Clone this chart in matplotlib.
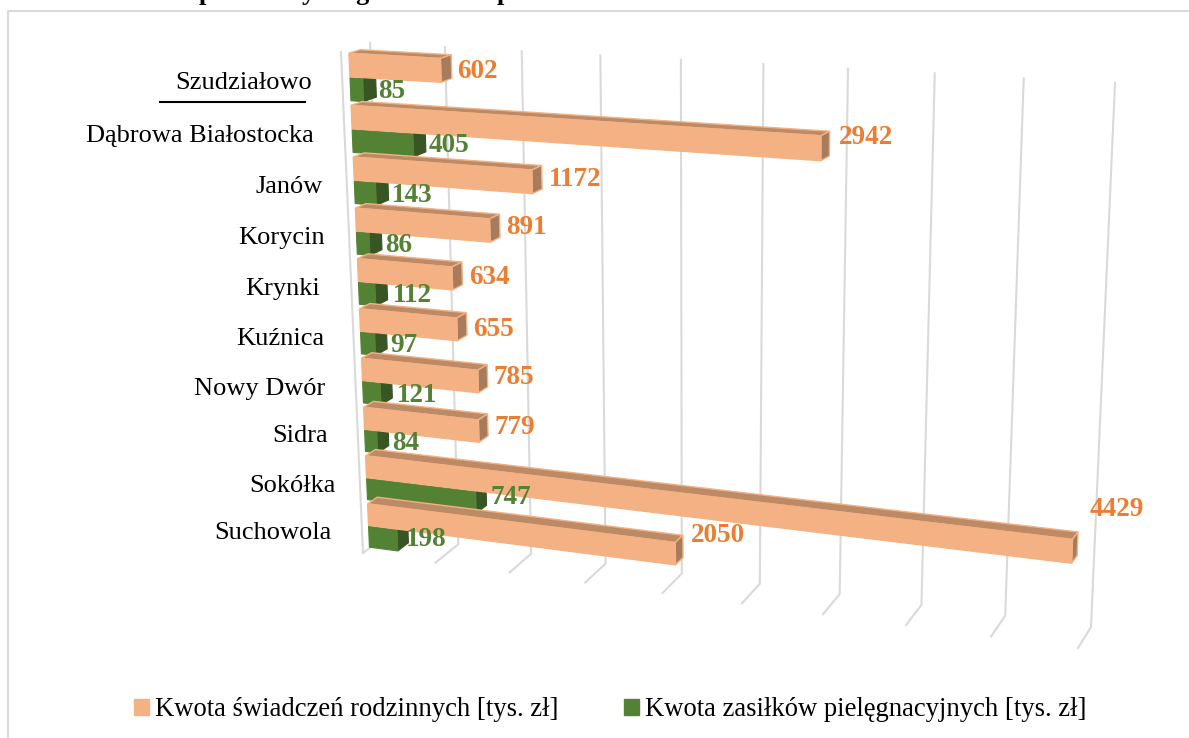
import numpy as np
import matplotlib
matplotlib.use("Agg")
import matplotlib.pyplot as plt
from matplotlib.patches import Polygon, Patch
from matplotlib.lines import Line2D

# ---- data ----
categories = ["Szudziałowo", "Dąbrowa Białostocka", "Janów", "Korycin", "Krynki",
              "Kuźnica", "Nowy Dwór", "Sidra", "Sokółka", "Suchowola"]
swiadczenia = [602, 2942, 1172, 891, 634, 655, 785, 779, 4429, 2050]
zasilki = [85, 405, 143, 86, 112, 97, 121, 84, 747, 198]
grid_values = [0, 500, 1000, 1500, 2000, 2500, 3000, 3500, 4000, 4500]
series_names = ["Kwota świadczeń rodzinnych [tys. zł]", "Kwota zasiłków pielęgnacyjnych [tys. zł]"]

# ---- layout (pixels) ----
W_, H_ = 1189, 738
VMAX, CMAX = 4500.0, 10.0
WALL = [(370, 43), (1115, 83), (1091, 627), (387, 535)]
FRONT = [(341, 52), (1095, 95), (1078, 648), (363, 553)]
T_FRONT, T_BACK_P, T_BACK_G = 0.73, 0.34, 0.28
P_TOP, P_BOT, G_TOP, G_BOT = 0.07, 0.52, 0.54, 0.98

cat_right = [312, 314, 323, 325, 320, 324, 325, 328, 336, 331]
cat_y = [83, 136, 187, 238, 289, 339, 389, 436, 486, 533]
peach_lbl = [(477, 71), (866, 137), (575, 179), (526, 228), (489, 278), (493, 329),
             (514, 378), (515, 427), (1117, 509), (718, 536)]
green_lbl = [(392, 92), (449, 145), (412, 195), (399, 245), (412, 296), (404, 346),
             (417, 395), (406, 444), (511, 497), (426, 539)]

PEACH, PEACH_TOP, PEACH_SIDE = "#F4B183", "#BC8B66", "#A67C5C"
GREEN, GREEN_SIDE = "#548235", "#375623"
TXT_O, TXT_G = "#ED7D31", "#548235"
GRID = "#D9D9D9"

plt.rcParams["font.family"] = ["Liberation Serif", "DejaVu Serif"]


def homography(q):
    src = [(0, 0), (VMAX, 0), (VMAX, CMAX), (0, CMAX)]
    A, b = [], []
    for (x, y), (u, v) in zip(src, q):
        A.append([x, y, 1, 0, 0, 0, -u * x, -u * y]); b.append(u)
        A.append([0, 0, 0, x, y, 1, -v * x, -v * y]); b.append(v)
    h = np.linalg.solve(np.array(A, float), np.array(b, float))
    return np.append(h, 1).reshape(3, 3)


HW, HF = homography(WALL), homography(FRONT)


def proj(H, v, c):
    p = H @ np.array([v, c, 1.0])
    return p[:2] / p[2]


def P(v, c, t):
    return (1 - t) * proj(HW, v, c) + t * proj(HF, v, c)


fig = plt.figure(figsize=(W_ / 100, H_ / 100), dpi=100, facecolor="white")
ax = fig.add_axes([0, 0, 1, 1])
ax.set_xlim(0, W_)
ax.set_ylim(H_, 0)
ax.axis("off")

# chart frame
ax.add_line(Line2D([8, 8, W_], [H_, 11, 11], color=GRID, lw=1.5, zorder=1))

# gridlines
for g in grid_values:
    a, b, c = proj(HW, g, 0), proj(HW, g, CMAX), proj(HF, g, CMAX)
    ax.add_line(Line2D([a[0], b[0], c[0]], [a[1], b[1], c[1]], color=GRID, lw=1.5, zorder=2))
a, b = proj(HF, 0, 0), proj(HF, 0, CMAX)
ax.add_line(Line2D([a[0], b[0]], [a[1], b[1]], color=GRID, lw=1.5, zorder=2))


def poly(pts, fc, ec, z, lw=0.8):
    ax.add_patch(Polygon(np.array(pts), closed=True, facecolor=fc, edgecolor=ec, lw=lw, zorder=z))


z = 5
for i, (pv, gv) in enumerate(zip(swiadczenia, zasilki)):
    # green series (behind)
    c0, c1 = i + G_TOP, i + G_BOT
    poly([P(gv, c0, T_FRONT), P(gv, c1, T_FRONT), P(gv, c1, T_BACK_G), P(gv, c0, T_BACK_G)],
         GREEN_SIDE, GREEN_SIDE, z)
    poly([P(0, c0, T_FRONT), P(gv, c0, T_FRONT), P(gv, c1, T_FRONT), P(0, c1, T_FRONT)],
         GREEN, GREEN, z + 0.1)
    # peach series
    c0, c1 = i + P_TOP, i + P_BOT
    poly([P(0, c0, T_FRONT), P(pv, c0, T_FRONT), P(pv, c0, T_BACK_P), P(0, c0, T_BACK_P)],
         PEACH_TOP, PEACH, z + 0.2, 1.0)
    poly([P(pv, c0, T_FRONT), P(pv, c1, T_FRONT), P(pv, c1, T_BACK_P), P(pv, c0, T_BACK_P)],
         PEACH_SIDE, PEACH, z + 0.3, 1.0)
    poly([P(0, c0, T_FRONT), P(pv, c0, T_FRONT), P(pv, c1, T_FRONT), P(0, c1, T_FRONT)],
         PEACH, PEACH, z + 0.4, 1.0)
    z += 1

for v, (x, y) in zip(swiadczenia, peach_lbl):
    ax.text(x, y, str(v), color=TXT_O, fontsize=19.5, fontweight="bold", ha="center", va="center", zorder=40)
for v, (x, y) in zip(zasilki, green_lbl):
    ax.text(x, y, str(v), color=TXT_G, fontsize=19.5, fontweight="bold", ha="center", va="center", zorder=40)

for name, x, y in zip(categories, cat_right, cat_y):
    ax.text(x, y, name, color="black", fontsize=19, ha="right", va="center", zorder=40)
ax.add_line(Line2D([160, 305], [102, 102], color="black", lw=1.5, zorder=40))

# clipped title, only descenders remain inside the picture
for ch, x in zip("pygp", [206, 308, 362, 504]):
    ax.text(x, 0, ch, color="black", fontsize=19, fontweight="bold", ha="center", va="baseline", zorder=40)

handles = [Patch(facecolor=PEACH, edgecolor=PEACH), Patch(facecolor=GREEN, edgecolor=GREEN)]
ax.legend(handles, series_names, ncol=2, loc="center", bbox_to_anchor=(610, 710),
          bbox_transform=ax.transData, frameon=False, fontsize=19.15,
          handlelength=0.57, handleheight=0.57, handletextpad=0.22, columnspacing=2.45,
          borderpad=0, borderaxespad=0)

fig.savefig("out.png", dpi=100, facecolor="white")
